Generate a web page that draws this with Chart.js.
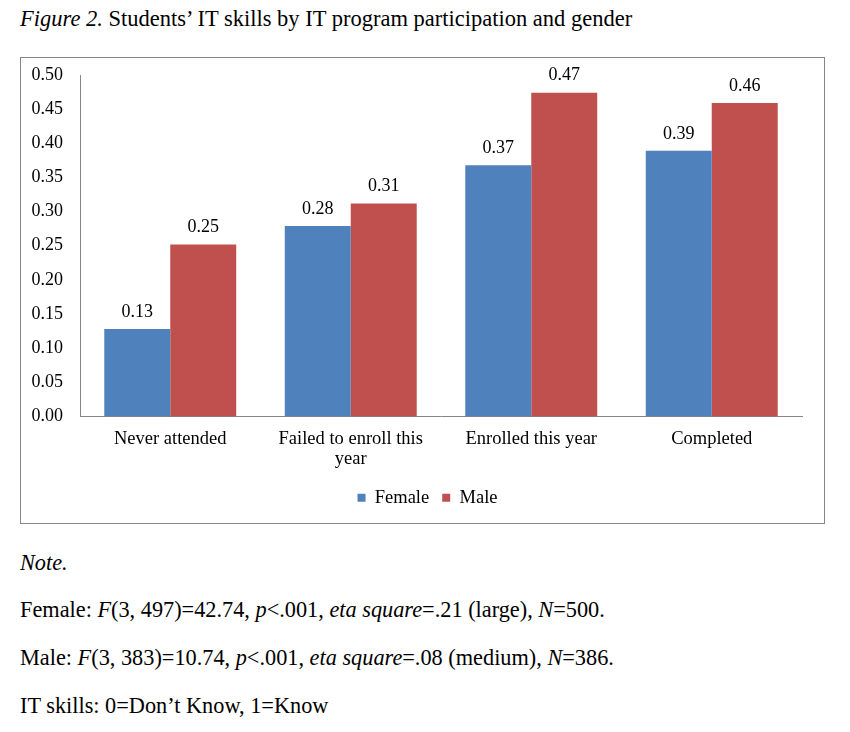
<!DOCTYPE html>
<html>
<head>
<meta charset="utf-8">
<script src="https://cdn.jsdelivr.net/npm/chart.js@4.4.0/dist/chart.umd.min.js"></script>
<style>
  body { margin: 0; background: #fff; font-family: "Liberation Serif", serif; color: #000; }
  .title { position: absolute; left: 20px; top: 6px; font-size: 22.5px; }
  .box { position: absolute; left: 20px; top: 57px; width: 803px; height: 465px; border: 1px solid #868686; }
  .note { position: absolute; left: 20px; font-size: 22.3px; white-space: nowrap; }
</style>
</head>
<body>
<div class="title"><i>Figure 2.</i> Students’ IT skills by IT program participation and gender</div>
<div class="box"><canvas id="chart" width="803" height="465"></canvas></div>
<div class="note" style="top:550px"><i>Note.</i></div>
<div class="note" style="top:597px">Female: <i>F</i>(3, 497)=42.74, <i>p</i>&lt;.001, <i>eta square</i>=.21 (large), <i>N</i>=500.</div>
<div class="note" style="top:645px">Male: <i>F</i>(3, 383)=10.74, <i>p</i>&lt;.001, <i>eta square</i>=.08 (medium), <i>N</i>=386.</div>
<div class="note" style="top:693px">IT skills: 0=Don’t Know, 1=Know</div>
<script>
const categories = ["Never attended", ["Failed to enroll this", "year"], "Enrolled this year", "Completed"];
const female = [0.128, 0.279, 0.368, 0.389];
const male = [0.252, 0.312, 0.474, 0.459];
const yTicks = [0, 0.05, 0.1, 0.15, 0.2, 0.25, 0.3, 0.35, 0.4, 0.45, 0.5];

const serif = "'Liberation Serif', 'Times New Roman', serif";

// value labels above each bar
const barLabels = {
    id: 'barLabels',
    afterLayout(chart) {
        // nudge the legend a little to the right, like the original
        chart.legend.left += 16;
        chart.legend.right += 16;
    },
    afterDatasetsDraw(chart) {
        const ctx = chart.ctx;
        ctx.save();
        ctx.font = "18px " + serif;
        ctx.fillStyle = '#000';
        ctx.textAlign = 'center';
        ctx.textBaseline = 'middle';
        chart.data.datasets.forEach((ds, i) => {
            chart.getDatasetMeta(i).data.forEach((bar, j) => {
                ctx.fillText(ds.data[j].toFixed(2), bar.x, bar.y - 17);
            });
        });
        ctx.restore();
    }
};

new Chart(document.getElementById('chart'), {
    type: 'bar',
    data: {
        labels: categories,
        datasets: [
            { label: 'Female', data: female, backgroundColor: '#4F81BD' },
            { label: 'Male', data: male, backgroundColor: '#C0504D' }
        ]
    },
    options: {
        responsive: false,
        animation: false,
        events: [],
        layout: { padding: { top: 17, right: 22, left: 0, bottom: 6 } },
        datasets: { bar: { categoryPercentage: 0.731, barPercentage: 1 } },
        scales: {
            x: {
                grid: { display: false, drawTicks: false },
                border: { color: '#868686' },
                ticks: { color: '#000', font: { family: serif, size: 18.5, lineHeight: 1.1 }, padding: 12, maxRotation: 0 },
                afterFit: s => { s.height = 59; }
            },
            y: {
                min: 0, max: 0.5,
                grid: { display: false, drawTicks: false },
                border: { color: '#868686' },
                afterBuildTicks: s => { s.ticks = yTicks.map(v => ({ value: v })); },
                ticks: {
                    color: '#000', font: { family: serif, size: 18 }, padding: 17,
                    callback: v => v.toFixed(2)
                },
                afterFit: s => { s.width = 59; s.paddingTop = 0; s.paddingBottom = 0; }
            }
        },
        plugins: {
            legend: {
                position: 'bottom',
                labels: { boxWidth: 8, boxHeight: 8, color: '#000', font: { family: serif, size: 18.5 }, padding: 13 }
            },
            tooltip: { enabled: false }
        }
    },
    plugins: [barLabels]
});
</script>
</body>
</html>
